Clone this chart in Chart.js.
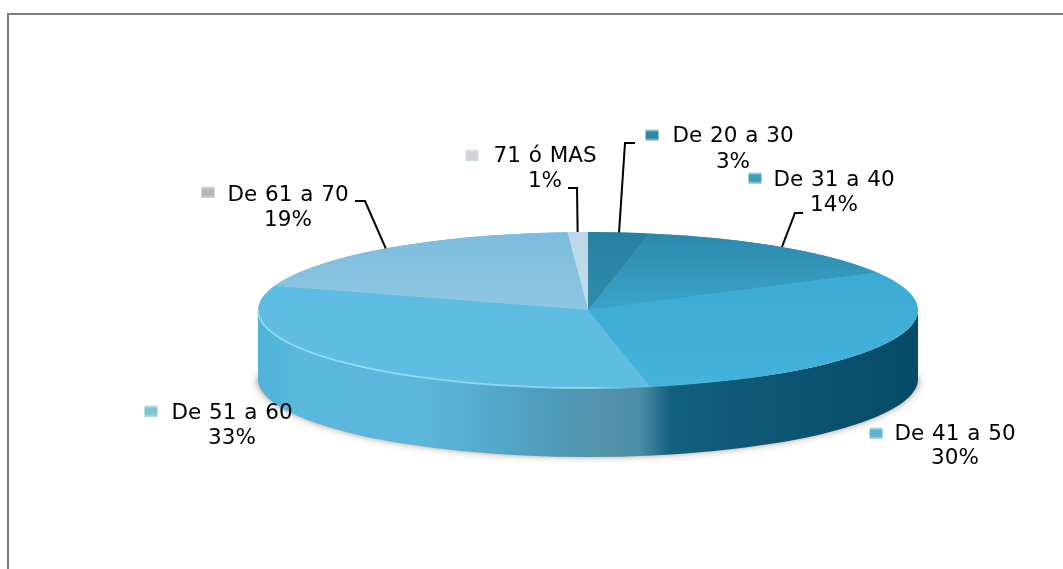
<!DOCTYPE html>
<html><head><meta charset="utf-8">
<style>html,body{margin:0;padding:0;background:#fff;overflow:hidden}#w{position:relative;width:1063px;height:569px}#c{filter:blur(0.45px)}</style>
<script src="https://cdn.jsdelivr.net/npm/chart.js@4"></script>
</head><body><div id="w"><canvas id="c" width="1063" height="569"></canvas></div>
<script>
const categories = ["De 20 a 30","De 31 a 40","De 41 a 50","De 51 a 60","De 61 a 70","71 ó MAS"];
const shares = [3,14,30,33,19,1];
const sliceStart = ["#27809f","#2b88ab","#38a8d2","#5dbbe1","#7cbcdc","#bcd8e8"];
const sliceEnd   = ["#3a96b8","#4fc0e8","#45b4dc","#60bde2","#a0d0e8","#c6e0ee"];
const markerColors = ["#2f86a6","#3f9fb8","#5ab4d2","#7cc4cf","#b4b8bc","#cfd3d8"];
const labelBoxes = [
  {mx:652,my:135,tx:733,y1:136,y2:162,elbow:[[635,143],[625,143]]},
  {mx:755,my:178,tx:834,y1:180,y2:205,elbow:[[803,213],[795,213]]},
  {mx:876,my:433,tx:955,y1:434,y2:458,elbow:null},
  {mx:151,my:411,tx:232,y1:413,y2:438,elbow:null},
  {mx:208,my:192,tx:288,y1:195,y2:220,elbow:[[355,201],[365,201]]},
  {mx:472,my:155,tx:545,y1:156,y2:181,elbow:[[568,188],[577,188]]}
];
const P = {cx:588, cy:310, rx:330, ry:78, depth:69};

const wallStops = [[0,"#4fb3d9"],[0.06,"#5ab8dd"],[0.25,"#5cb7db"],[0.35,"#55aacb"],[0.455,"#4f9ab8"],[0.52,"#5493ab"],[0.58,"#4a8ca6"],[0.625,"#125f80"],[0.72,"#0f5a78"],[1,"#064b67"]];

const pie3d = {
  id:"pie3d",
  beforeDraw(ch){
    const c=ch.ctx;
    c.save();
    c.fillStyle="#fff";c.fillRect(0,0,ch.width,ch.height);
    c.strokeStyle="#7f7f7f";c.lineWidth=2;
    c.beginPath();c.moveTo(8,569);c.lineTo(8,14);c.lineTo(1063,14);c.stroke();
    c.restore();
  },
  beforeDatasetsDraw(ch){
    const c=ch.ctx,a=ch.getDatasetMeta(0).data[0];
    const wall=()=>{c.beginPath();
      c.ellipse(P.cx,P.cy,P.rx,P.ry,0,Math.PI,0,true);
      c.ellipse(P.cx,P.cy+P.depth,P.rx,P.ry,0,0,Math.PI,false);
      c.closePath();};
    // soft ground shadow at the lower edge
    c.save();
    c.shadowColor="rgba(90,60,40,.8)";c.shadowBlur=8;c.fillStyle="#555";
    c.beginPath();c.ellipse(P.cx,P.cy+P.depth-2,P.rx,P.ry,0,0,Math.PI,false);c.fill();
    c.restore();
    // side wall
    c.save();
    const g=c.createLinearGradient(P.cx-P.rx,0,P.cx+P.rx,0);
    wallStops.forEach(s=>g.addColorStop(s[0],s[1]));
    c.fillStyle=g;wall();c.fill();
    c.restore();
    // squashed pie
    c.save();
    c.translate(P.cx,P.cy);c.scale(P.rx/a.outerRadius,P.ry/a.outerRadius);c.translate(-a.x,-a.y);
    c.fillStyle="#4fb3da";
    c.beginPath();c.arc(a.x,a.y,a.outerRadius-.5,0,Math.PI*2);c.fill();
  },
  afterDatasetsDraw(ch){
    const c=ch.ctx,arcs=ch.getDatasetMeta(0).data;
    c.restore();
    // light rim along the front of the top face
    c.save();
    const g=c.createLinearGradient(P.cx-P.rx,0,P.cx+P.rx,0);
    g.addColorStop(0,"rgba(150,220,245,.9)");g.addColorStop(.5,"rgba(150,220,245,.85)");
    g.addColorStop(.6,"rgba(120,200,230,.35)");g.addColorStop(.68,"rgba(120,200,230,0)");
    c.strokeStyle=g;c.lineWidth=1.8;
    c.beginPath();c.ellipse(P.cx,P.cy,P.rx,P.ry,0,Math.PI,0,true);c.stroke();
    c.restore();
    // leaders and labels
    c.save();
    c.font='21.5px "DejaVu Sans"';c.textAlign="center";c.textBaseline="middle";
    c.wordSpacing="1px";
    categories.forEach((name,i)=>{
      const b=labelBoxes[i],arc=arcs[i];
      if(b.elbow){
        const mid=(arc.startAngle+arc.endAngle)/2;
        c.strokeStyle="#000";c.lineWidth=2;c.lineJoin="miter";
        c.beginPath();c.moveTo(b.elbow[0][0],b.elbow[0][1]);c.lineTo(b.elbow[1][0],b.elbow[1][1]);
        c.lineTo(P.cx+P.rx*Math.cos(mid),P.cy+P.ry*Math.sin(mid));c.stroke();
      }
      const m=c.createLinearGradient(0,b.my-6,0,b.my+6);
      m.addColorStop(0,"#f2f6f8");m.addColorStop(.25,markerColors[i]);m.addColorStop(.75,markerColors[i]);m.addColorStop(1,"#c8d8de");
      c.fillStyle=m;c.fillRect(b.mx-6.5,b.my-6,13,12);
      c.fillStyle="#000";
      c.fillText(name,b.tx,b.y1);
      c.fillText(shares[i]+"%",b.tx,b.y2);
    });
    c.restore();
  }
};

function sliceFill(ctx){
  const ch=ctx.chart,i=ctx.dataIndex,A=ch.chartArea;
  if(!A) return sliceStart[i];
  const g=ch.ctx.createLinearGradient(0,A.top,0,A.bottom);
  g.addColorStop(0,sliceStart[i]);g.addColorStop(1,sliceEnd[i]);
  return g;
}

new Chart(document.getElementById("c"),{
  type:"pie",
  data:{labels:categories,datasets:[{data:shares,backgroundColor:sliceFill,borderWidth:0,hoverOffset:0}]},
  options:{responsive:false,animation:false,rotation:0,layout:{padding:10},
    plugins:{legend:{display:false},tooltip:{enabled:false},title:{display:false}}},
  plugins:[pie3d]
});
</script></body></html>
